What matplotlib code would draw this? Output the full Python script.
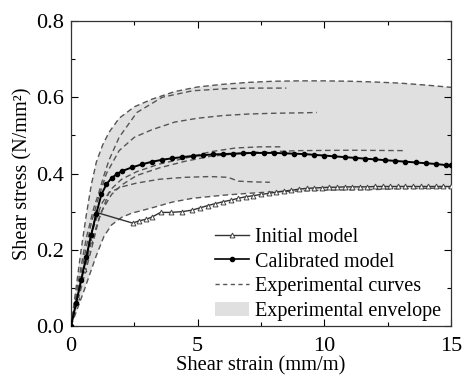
import numpy as np
import matplotlib
matplotlib.use("Agg")
from matplotlib import pyplot as plt
from matplotlib.patches import Patch
from matplotlib.lines import Line2D
from matplotlib.ticker import MultipleLocator

plt.rcParams['font.family'] = ['Liberation Serif', 'DejaVu Serif']
plt.rcParams['font.size'] = 14

# experimental curves (strain mm/m, stress N/mm2)
exp_a_x = [0, 0.2, 0.4, 0.6, 0.8, 1.0, 1.25, 1.5, 1.9, 2.5, 3.2, 4.1, 5, 6, 7, 8, 9, 10, 11, 12, 13, 14, 15]
exp_a_y = [0, 0.1, 0.2, 0.29, 0.37, 0.43, 0.475, 0.508, 0.545, 0.575, 0.595, 0.615, 0.627, 0.634, 0.639,
           0.642, 0.643, 0.643, 0.642, 0.64, 0.637, 0.632, 0.626]
exp_b_x = [0, 0.3, 0.6, 0.9, 1.1, 1.3, 1.5, 1.9, 2.6, 3.6, 4.8, 6, 7, 8.5]
exp_b_y = [0, 0.12, 0.23, 0.31, 0.35, 0.395, 0.435, 0.495, 0.56, 0.60, 0.617, 0.622, 0.624, 0.624]
exp_c_x = [0, 0.4, 0.8, 1.1, 1.4, 1.9, 2.5, 3.2, 4.1, 5, 6, 7, 8, 9, 9.7]
exp_c_y = [0, 0.14, 0.27, 0.34, 0.40, 0.46, 0.495, 0.515, 0.535, 0.545, 0.552, 0.556, 0.558, 0.559, 0.56]
exp_d1_x = [0, 0.4, 0.8, 1.2, 1.6, 2, 2.6, 3.5, 4.5, 5.5, 6.5, 7.5, 8.3]
exp_d1_y = [0, 0.12, 0.24, 0.32, 0.36, 0.385, 0.405, 0.425, 0.44, 0.457, 0.467, 0.47, 0.47]
exp_d2_x = [0, 0.4, 0.8, 1.2, 1.6, 2, 2.6, 3.5, 4.5, 5.5, 7, 9, 11, 13.2]
exp_d2_y = [0, 0.11, 0.22, 0.30, 0.345, 0.37, 0.395, 0.415, 0.432, 0.445, 0.455, 0.46, 0.461, 0.46]
exp_e_x = [0, 0.4, 0.8, 1.1, 1.5, 2, 2.6, 3.5, 4.5, 5.5, 6.2, 6.6, 7.2, 7.85]
exp_e_y = [0, 0.1, 0.2, 0.28, 0.35, 0.365, 0.375, 0.385, 0.39, 0.392, 0.39, 0.38, 0.378, 0.377]
exp_f_x = [0, 0.5, 1.0, 1.3, 1.6, 2, 2.4, 3.2, 4, 4.8, 6, 7, 8, 9, 10, 11, 12, 13, 14, 15]
exp_f_y = [0, 0.09, 0.185, 0.235, 0.265, 0.285, 0.296, 0.31, 0.325, 0.335, 0.343, 0.348, 0.352, 0.354,
           0.356, 0.357, 0.358, 0.36, 0.361, 0.362]

init_x = [0, 0.25, 0.5, 0.75, 1.0, 2.43, 2.7, 2.96, 3.2, 3.54, 3.93, 4.39, 4.78, 5.1, 5.4, 5.7, 6.0, 6.3,
          6.6, 6.9, 7.2, 7.5, 7.8, 8.1, 8.4, 8.7, 9.0, 9.3, 9.6, 9.9, 10.2, 10.5, 10.8, 11.1, 11.4, 11.7,
          12.0, 12.3, 12.6, 12.9, 13.2, 13.5, 13.8, 14.1, 14.4, 14.7, 15.0]
init_y = [0, 0.075, 0.15, 0.225, 0.298, 0.270, 0.276, 0.280, 0.286, 0.298, 0.298, 0.300, 0.304, 0.310,
          0.316, 0.321, 0.326, 0.330, 0.335, 0.339, 0.342, 0.345, 0.348, 0.351, 0.354, 0.356, 0.359, 0.361,
          0.362, 0.363, 0.364, 0.364, 0.365, 0.365, 0.365, 0.365, 0.366, 0.366, 0.366, 0.366, 0.366, 0.366,
          0.366, 0.366, 0.366, 0.366, 0.366]

calib_x = [0, 0.2, 0.4, 0.6, 0.8, 1.0, 1.2, 1.4, 1.6, 1.8, 2.0, 2.4, 2.8, 3.2, 3.6, 4.0, 4.4, 4.8, 5.2,
           5.6, 6.0, 6.4, 6.8, 7.2, 7.6, 8.0, 8.4, 8.8, 9.2, 9.6, 10.0, 10.4, 10.8, 11.2, 11.6, 12.0,
           12.4, 12.8, 13.2, 13.6, 14.0, 14.4, 14.8, 15.0]
calib_y = [0, 0.06, 0.12, 0.18, 0.24, 0.295, 0.345, 0.372, 0.388, 0.398, 0.406, 0.416, 0.424, 0.431,
           0.436, 0.440, 0.443, 0.446, 0.448, 0.450, 0.451, 0.452, 0.453, 0.454, 0.454, 0.454, 0.453,
           0.452, 0.451, 0.449, 0.447, 0.445, 0.443, 0.441, 0.439, 0.437, 0.435, 0.433, 0.431, 0.429,
           0.427, 0.425, 0.422, 0.421]

exp_curves = [(exp_a_x, exp_a_y), (exp_b_x, exp_b_y), (exp_c_x, exp_c_y), (exp_d1_x, exp_d1_y),
              (exp_d2_x, exp_d2_y), (exp_e_x, exp_e_y), (exp_f_x, exp_f_y)]

fig = plt.figure(figsize=(4.62, 3.79), dpi=100)
ax = fig.add_axes([0.1537, 0.1398, 0.8225, 0.8048])

env_color = '#e0e0e0'
dash_color = '#555555'
ax.fill(np.r_[exp_a_x, exp_f_x[::-1]], np.r_[exp_a_y, exp_f_y[::-1]],
        color=env_color, lw=0, zorder=1)
for cx, cy in exp_curves:
    ax.plot(cx, cy, color=dash_color, lw=1.0, dashes=(4, 2.5), zorder=2)

ax.plot(init_x, init_y, color='#333333', lw=1.0, marker='^', ms=3.5, mfc='white', mec='#444444',
        mew=0.7, zorder=3)
ax.plot(calib_x, calib_y, color='black', lw=1.4, marker='o', ms=3, mfc='black', mec='black', zorder=4)

ax.set_xlim(0, 15)
ax.set_ylim(0, 0.8)
ax.xaxis.set_major_locator(MultipleLocator(5))
ax.xaxis.set_minor_locator(MultipleLocator(2.5))
ax.yaxis.set_major_locator(MultipleLocator(0.2))
ax.yaxis.set_minor_locator(MultipleLocator(0.1))
ax.yaxis.set_major_formatter(plt.FormatStrFormatter('%.1f'))
ax.tick_params(which='both', direction='in', top=True, right=True, labelsize=16)
ax.tick_params(axis='x', pad=8)
ax.tick_params(axis='y', pad=5)
ax.tick_params(which='major', length=5, width=0.8)
ax.tick_params(which='minor', length=3, width=0.8)
for s in ax.spines.values():
    s.set_linewidth(0.9)
    s.set_color('#333333')

ax.set_xlabel('Shear strain (mm/m)', fontsize=14.8, labelpad=0)
ax.set_ylabel('Shear stress (N/mm²)', fontsize=14.6, labelpad=3)

handles = [
    Line2D([], [], color='#333333', lw=1.0, marker='^', ms=3.5, mfc='white', mec='#444444', mew=0.7),
    Line2D([], [], color='black', lw=1.2, marker='o', ms=3, mfc='black'),
    Line2D([], [], color=dash_color, lw=1.0, dashes=(3, 2.5)),
    Patch(facecolor=env_color, edgecolor='none'),
]
labels = ['Initial model', 'Calibrated model', 'Experimental curves', 'Experimental envelope']
ax.legend(handles, labels, loc='lower right', bbox_to_anchor=(0.995, -0.01), frameon=False,
          fontsize=14.5, handlelength=1.7, handletextpad=0.3, labelspacing=0.28, borderpad=0.2,
          borderaxespad=0.2)

fig.savefig('out.png', dpi=100)
